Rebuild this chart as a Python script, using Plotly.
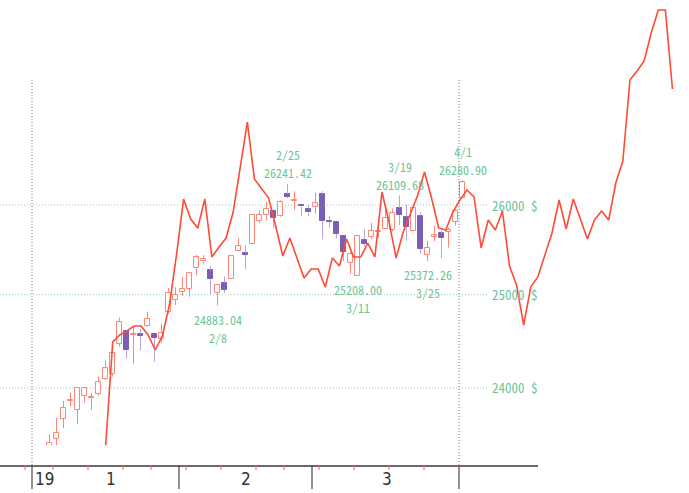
import math
import plotly.graph_objects as go

# ---------------- data ----------------
dates = ["1/2", "1/3", "1/4", "1/7", "1/8", "1/9", "1/10", "1/11", "1/14", "1/15",
         "1/16", "1/17", "1/18", "1/22", "1/23", "1/24", "1/25", "1/28", "1/29", "1/30",
         "1/31", "2/1", "2/4", "2/5", "2/6", "2/7", "2/8", "2/11", "2/12", "2/13",
         "2/14", "2/15", "2/19", "2/20", "2/21", "2/22", "2/25", "2/26", "2/27", "2/28",
         "3/1", "3/4", "3/5", "3/6", "3/7", "3/8", "3/11", "3/12", "3/13", "3/14",
         "3/15", "3/18", "3/19", "3/20", "3/21", "3/22", "3/25", "3/26", "3/27", "3/28",
         "3/29", "4/1"]
opens = [23058.61, 23176.39, 22894.92, 23474.26, 23680.32, 23864.13, 23773.10, 23917.86, 23897.29, 23940.00,
         24093.22, 24152.26, 24469.49, 24600.38, 24560.00, 24575.00, 24660.21, 24574.32, 24522.05, 24810.00,
         24940.00, 25025.31, 25062.12, 25287.93, 25371.57, 25265.81, 25022.95, 25131.55, 25170.34, 25483.55,
         25461.48, 25562.31, 25815.47, 25888.87, 25931.33, 25879.49, 26126.15, 26046.30, 25995.00, 25957.93,
         25972.40, 26122.19, 25822.68, 25806.67, 25645.86, 25352.62, 25208.00, 25610.00, 25640.00, 25697.15,
         25732.35, 25720.00, 25965.29, 25865.00, 25705.78, 25877.26, 25442.31, 25640.00, 25682.22, 25700.00,
         25810.00, 26075.10]
highs = [23413.65, 23176.39, 23518.64, 23687.74, 23864.65, 23952.25, 24001.92, 24005.43, 23947.91, 24120.00,
         24288.69, 24452.78, 24750.22, 24600.38, 24658.08, 24630.00, 24815.01, 24574.32, 24684.25, 25072.98,
         25081.37, 25193.13, 25239.37, 25439.39, 25435.93, 25314.24, 25109.10, 25198.67, 25436.76, 25625.66,
         25551.44, 25883.25, 25938.74, 26036.53, 25931.33, 26052.56, 26241.42, 26154.39, 26000.17, 25999.45,
         26143.66, 26155.98, 25874.80, 25808.70, 25645.86, 25475.14, 25665.12, 25725.76, 25797.49, 25754.70,
         25971.94, 25960.46, 26109.68, 26008.15, 26001.64, 25915.44, 25596.98, 25765.86, 25709.63, 25743.80,
         25949.32, 26280.90]
lows = [22836.75, 22638.41, 22894.92, 23301.59, 23581.45, 23811.76, 23627.74, 23844.87, 23771.59, 23920.00,
        24085.45, 24120.00, 24440.00, 24314.28, 24257.86, 24400.00, 24652.32, 24277.29, 24476.07, 24790.00,
        24887.01, 24989.25, 24977.67, 25213.37, 25345.47, 25000.00, 24883.04, 25015.63, 25170.34, 25483.55,
        25280.85, 25562.31, 25794.51, 25828.88, 25739.54, 25867.00, 26080.80, 25945.38, 25870.00, 25871.71,
        25900.00, 25611.20, 25742.82, 25620.67, 25370.06, 25230.00, 25208.00, 25534.54, 25610.34, 25630.15,
        25732.35, 25700.00, 25771.48, 25597.45, 25705.78, 25454.68, 25372.26, 25589.69, 25402.94, 25520.06,
        25768.40, 26075.10]
closes = [23346.24, 22686.22, 23433.16, 23531.35, 23787.45, 23879.12, 24001.92, 23995.95, 23909.84, 24065.59,
          24207.16, 24370.10, 24706.35, 24404.48, 24575.62, 24553.24, 24737.20, 24528.22, 24579.96, 25014.86,
          24999.67, 25063.89, 25239.37, 25411.52, 25390.30, 25169.53, 25106.33, 25053.11, 25425.76, 25543.27,
          25439.39, 25883.25, 25891.32, 25954.44, 25850.63, 26031.81, 26091.95, 26057.98, 25985.16, 25916.00,
          26026.32, 25819.65, 25806.63, 25673.46, 25473.23, 25450.24, 25650.88, 25554.66, 25702.89, 25709.94,
          25848.87, 25914.10, 25887.38, 25745.67, 25962.51, 25502.32, 25516.83, 25657.73, 25625.59, 25717.46,
          25928.68, 26258.42]

# red comparison line (own day count)
red_day = [10, 11, 12, 13, 14, 15, 16, 17, 18, 19, 20, 21, 22, 23, 24, 25, 26, 27, 28, 29,
           30, 31, 32, 33, 34, 35, 36, 37, 38, 39, 40, 41, 42, 43, 44, 45, 46, 47, 48, 49,
           50, 51, 52, 53, 54, 55, 56, 57, 58, 59, 60, 61, 62, 63, 64, 65, 66, 67, 68, 69,
           70, 71, 72, 73, 74, 75, 76, 78, 79, 80, 81, 82, 83, 84, 85, 86, 87, 88, 89, 90]
red_val = [23400, 24488, 24563, 24606, 24660, 24660, 24563, 24402, 24552, 24887,
           25438, 26068, 25841, 25740, 26068, 25415, 25527, 25627, 25920, 26424,
           26961, 26297, 26194, 26080, 25762, 25426, 25627, 25404, 25183, 25282,
           25282, 25084, 25404, 25315, 25616, 25415, 25415, 25571, 25415, 26148,
           25807, 25404, 25695, 25898, 26102, 26378, 26080, 25740, 25717, 25920,
           26057, 26171, 26091, 25516, 25830, 25717, 25932, 25315, 25106, 24670,
           25084, 25194, 25449, 25684, 26057, 25728, 26068, 25616, 25830, 25932,
           25830, 26251, 26505, 27461, 27570, 27691, 28032, 28315, 28315, 27353]

grid_values = [24000, 25000, 26000]
grid_labels = ["24000 $", "25000 $", "26000 $"]

month_labels = ["19", "1", "2", "3"]
month_label_pos = [-0.5, 10.8, 30.1, 50.2]
month_bounds = [-0.5, 20.5, 39.5, 60.5]
week_bounds = [-1.5, 2.5, 7.5, 12.5, 16.5, 21.5, 26.5, 31.5, 35.5, 40.5, 45.5, 50.5, 55.5, 60.5]

high_notes = [(36, "2/25", "26241.42"), (52, "3/19", "26109.68"), (61, "4/1", "26280.90")]
low_notes = [(26, "2/8", "24883.04"), (46, "3/11", "25208.00"), (56, "3/25", "25372.26")]

# ---------------- styles ----------------
UP_LINE = "#ff8576"
DN_FILL = "#7c5fb2"
DN_WICK = "#b5a5dc"
RED = "#ff4a35"
GREEN = "#6cc496"
GRID = "#92d5ae"
FONT = "Noto Sans Mono CJK JP, DejaVu Sans Mono, monospace"
AXFONT = "Liberation Sans Narrow, DejaVu Sans Condensed, DejaVu Sans, sans-serif"
DOTS = "1px,2px"

W, H = 689, 493
PLOT_H = 445


def py(px):  # pixel row -> paper y
    return (PLOT_H - px) / PLOT_H


x_idx = list(range(len(dates)))
up = [i for i in x_idx if closes[i] >= opens[i]]
dn = [i for i in x_idx if closes[i] < opens[i]]

fig = go.Figure()


def wicks(ids):
    xs, ys = [], []
    for i in ids:
        lo_b, hi_b = min(opens[i], closes[i]), max(opens[i], closes[i])
        xs += [i, i, None, i, i, None]
        ys += [lows[i], lo_b, None, hi_b, highs[i], None]
    return xs, ys


for ids, col in ((up, UP_LINE), (dn, DN_WICK)):
    wx, wy = wicks(ids)
    fig.add_trace(go.Scatter(x=wx, y=wy, mode="lines", line=dict(color=col, width=1),
                             hoverinfo="skip", showlegend=False))

for ids, fill, lc in ((up, "#ffffff", UP_LINE), (dn, DN_FILL, DN_FILL)):
    fig.add_trace(go.Bar(
        x=ids,
        base=[min(opens[i], closes[i]) for i in ids],
        y=[max(abs(closes[i] - opens[i]), 1.0) for i in ids],
        width=0.72,
        marker=dict(color=fill, line=dict(color=lc, width=1)),
        showlegend=False, hoverinfo="skip"))

fig.add_trace(go.Scatter(x=red_day, y=red_val, xaxis="x2", mode="lines",
                         line=dict(color=RED, width=1.6), showlegend=False, hoverinfo="skip"))

shapes = []
for v in grid_values:
    shapes.append(dict(type="line", xref="paper", yref="y", x0=0, x1=487 / W, y0=v, y1=v,
                       line=dict(color=GRID, width=1, dash=DOTS), layer="below"))
for b in (month_bounds[0], month_bounds[-1]):
    shapes.append(dict(type="line", xref="x", yref="paper", x0=b, x1=b, y0=py(80), y1=py(466),
                       line=dict(color="#7a7a7a", width=1, dash=DOTS)))
shapes.append(dict(type="line", xref="paper", yref="paper", x0=0, x1=538 / W, y0=py(466), y1=py(466),
                   line=dict(color="#3a3a3a", width=1.5)))
for b in month_bounds:
    shapes.append(dict(type="line", xref="x", yref="paper", x0=b, x1=b, y0=py(466), y1=py(489),
                       line=dict(color="#222222", width=1)))
for b in week_bounds:
    shapes.append(dict(type="line", xref="x", yref="paper", x0=b, x1=b, y0=py(465), y1=py(470),
                       line=dict(color="#ff5a4a", width=1)))

NOTE_FONT = dict(family=FONT, size=12, color=GREEN)
ann = []
for v, t in zip(grid_values, grid_labels):
    ann.append(dict(xref="paper", yref="y", x=490 / W, y=math.log10(v), text=t, showarrow=False,
                    xanchor="left", yanchor="middle", font=dict(family=FONT, size=13, color=GREEN)))
for i, d, t in high_notes:
    yv = math.log10(float(t))
    ann.append(dict(xref="x", yref="y", x=i, y=yv, text=t, showarrow=False, borderpad=0,
                    xanchor="center", yanchor="middle", yshift=11, font=NOTE_FONT))
    ann.append(dict(xref="x", yref="y", x=i, y=yv, text=d, showarrow=False, borderpad=0,
                    xanchor="center", yanchor="middle", yshift=29, font=NOTE_FONT))
for i, d, t in low_notes:
    yv = math.log10(float(t))
    ann.append(dict(xref="x", yref="y", x=i, y=yv, text=t, showarrow=False, borderpad=0,
                    xanchor="center", yanchor="middle", yshift=-14, font=NOTE_FONT))
    ann.append(dict(xref="x", yref="y", x=i, y=yv, text=d, showarrow=False, borderpad=0,
                    xanchor="center", yanchor="middle", yshift=-32, font=NOTE_FONT))
for j, (lab, pos) in enumerate(zip(month_labels, month_label_pos)):
    ann.append(dict(xref="x", yref="paper", x=pos, y=py(479), text=lab, showarrow=False,
                    xanchor="left" if j == 0 else "center", yanchor="middle",
                    xshift=1 if j == 0 else 0,
                    font=dict(family=AXFONT, size=17, color="#333333")))

fig.update_layout(
    width=W, height=H,
    margin=dict(l=0, r=0, t=0, b=H - PLOT_H, pad=0),
    paper_bgcolor="white", plot_bgcolor="white",
    barmode="overlay", bargap=0,
    showlegend=False,
    xaxis=dict(range=[-5.0714, 93.357], visible=False, fixedrange=True),
    xaxis2=dict(range=[-4.9118, 92.336], overlaying="x", visible=False, fixedrange=True),
    yaxis=dict(type="log", range=[4.369378, 4.453919], visible=False, fixedrange=True),
    shapes=shapes, annotations=ann,
)

fig.write_html("out.html")
